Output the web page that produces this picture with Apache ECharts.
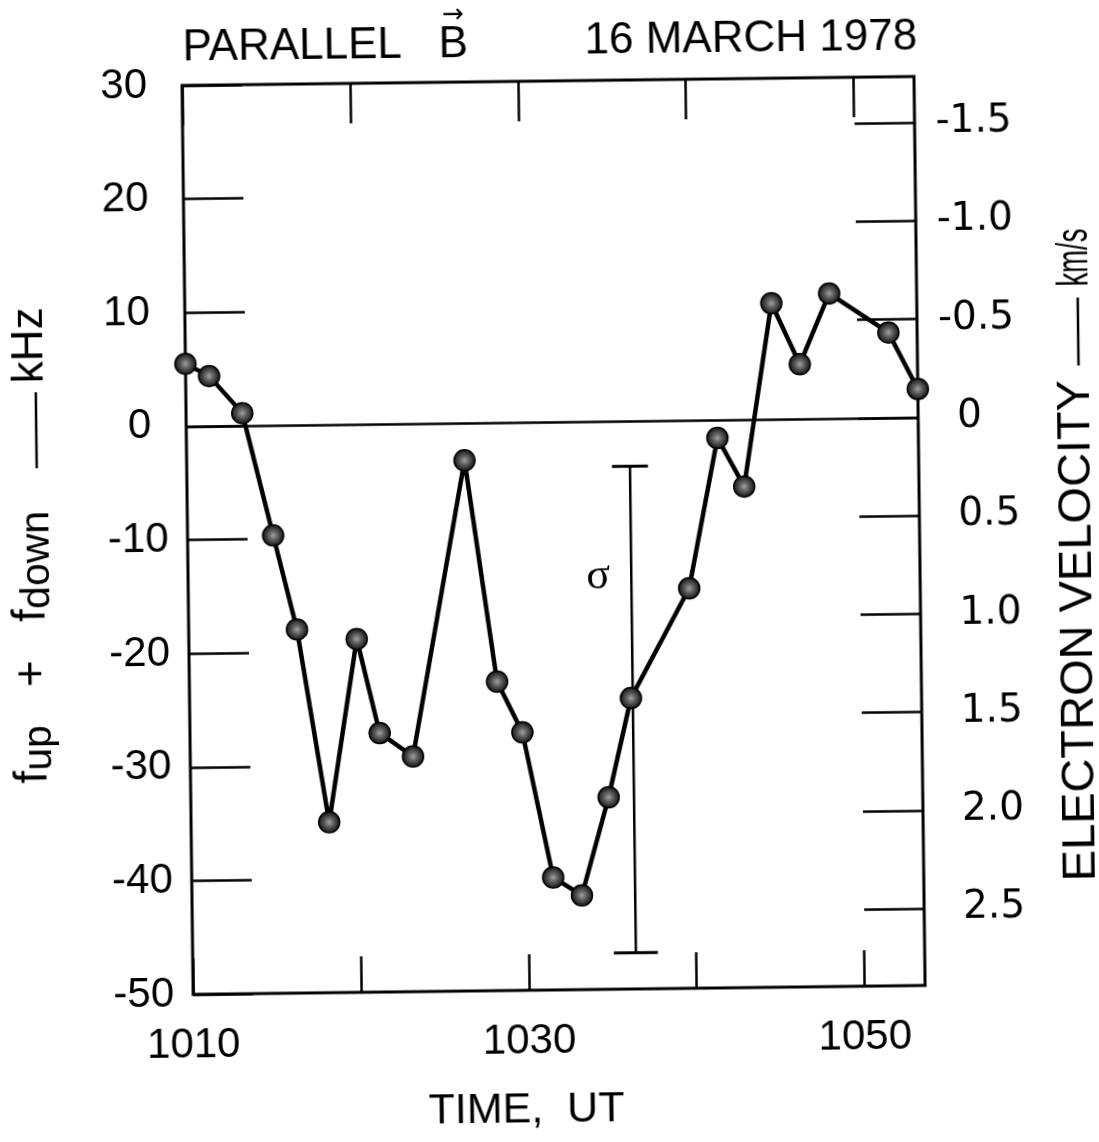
<!DOCTYPE html>
<html>
<head>
<meta charset="utf-8">
<title>Parallel B, 16 March 1978</title>
<script src="https://cdn.jsdelivr.net/npm/echarts@6/dist/echarts.min.js"></script>
<style>
  html, body { margin: 0; padding: 0; background: #fff; overflow: hidden; }
  /* the original plate sits at a slight tilt on the page */
  #chart { width: 1099px; height: 1142px; transform: rotate(-0.7deg); transform-origin: 549.5px 571px; }
</style>
</head>
<body>
<div id="chart"></div>
<script>
// Sample times (UT, minutes after 1000) and the summed Doppler shift f_up + f_down in kHz
const timeUT = [1010.0, 1011.4, 1013.35, 1015.1, 1016.45, 1018.23, 1020.0, 1021.3, 1023.27, 1026.55,
                1028.33, 1029.8, 1031.53, 1033.23, 1034.89, 1036.29, 1039.84, 1041.63, 1043.19, 1044.94,
                1046.59, 1048.39, 1051.89, 1053.6];
const freqSum = [5.5, 4.4, 1.1, -9.7, -18.0, -35.0, -18.9, -27.2, -29.3, -3.3,
                 -22.8, -27.3, -40.1, -41.7, -33.1, -24.4, -14.8, -1.6, -5.9, 10.2,
                 4.8, 11.0, 7.5, 2.5];

// Typical one-sigma uncertainty, drawn as a bar beside the data
const sigmaTime = 1036.4;
const sigmaRange = [-46.8, -4.0];

// Axis ticks and labels
const timeTicks = [1010, 1020, 1030, 1040, 1050];
const timeLabels = [1010, 1030, 1050];
const velocityTicks = [-1.5, -1.0, -0.5, 0, 0.5, 1.0, 1.5, 2.0, 2.5];

// kHz of summed shift per km/s of electron drift (velocity axis runs opposite to frequency)
const kHzPerKmS = 17.3;
const freqMin = -50, freqMax = 30;
const timeMin = 1010, timeMax = 1053.6;

const points = timeUT.map((t, i) => [t, freqSum[i]]);

const SANS = '"Liberation Sans", Arial, Helvetica, sans-serif';
const ROUND = '"DejaVu Sans", sans-serif';
const chart = echarts.init(document.getElementById('chart'), null, { renderer: 'canvas' });

const tickStyle = { color: '#000', width: 2.5 };

const option = {
  backgroundColor: '#fff',
  animation: false,
  grid: {
    left: 188, top: 81, right: 179, bottom: 152,
    show: true, borderColor: '#000', borderWidth: 3, backgroundColor: 'transparent'
  },
  xAxis: [
    {
      type: 'value', position: 'bottom', min: timeMin, max: timeMax,
      axisLine: { show: false, onZero: false },
      splitLine: { show: false },
      axisTick: { show: true, inside: true, length: 36, customValues: timeTicks, lineStyle: tickStyle },
      axisLabel: { customValues: timeLabels, margin: 30, color: '#000',
                   fontFamily: SANS, fontSize: 42, formatter: v => String(v) }
    },
    {
      type: 'value', position: 'top', min: timeMin, max: timeMax,
      axisLine: { show: false, onZero: false },
      splitLine: { show: false },
      axisTick: { show: true, inside: true, length: 40, customValues: timeTicks, lineStyle: tickStyle },
      axisLabel: { show: false }
    }
  ],
  yAxis: [
    {
      type: 'value', position: 'left', min: freqMin, max: freqMax, interval: 10,
      axisLine: { show: false, onZero: false },
      splitLine: { show: false },
      axisTick: { show: true, inside: true, length: 60, lineStyle: tickStyle },
      axisLabel: {
        margin: 19, color: '#000', fontFamily: SANS, fontSize: 42,
        formatter: v => (v < 0 ? '{n|' + v + '}' : '{p|' + v + '}'),
        rich: {
          n: { fontFamily: SANS, fontSize: 42, color: '#000' },
          p: { fontFamily: SANS, fontSize: 42, color: '#000', padding: [0, 16, 0, 0] }
        }
      }
    },
    {
      type: 'value', position: 'right', inverse: true,
      min: -freqMax / kHzPerKmS, max: -freqMin / kHzPerKmS,
      axisLine: { show: false, onZero: false },
      splitLine: { show: false },
      axisTick: { show: true, inside: true, length: 60, customValues: velocityTicks, lineStyle: tickStyle },
      axisLabel: {
        customValues: velocityTicks, margin: 21, color: '#000',
        fontFamily: ROUND, fontSize: 39,
        formatter: v => {
          const s = v === 0 ? '0' : Math.abs(v).toFixed(1);
          return v < 0 ? '{n|-' + s + '}' : '{p|' + s + '}';
        },
        rich: {
          n: { fontFamily: ROUND, fontSize: 39, color: '#000' },
          p: { fontFamily: ROUND, fontSize: 39, color: '#000', padding: [0, 0, 0, 18] }
        }
      }
    }
  ],
  series: [
    {
      type: 'line',
      xAxisIndex: 0, yAxisIndex: 0,
      data: points,
      symbol: 'circle',
      symbolSize: 21,
      z: 5,
      lineStyle: { color: '#000', width: 4.5 },
      itemStyle: {
        color: {
          type: 'radial', x: 0.5, y: 0.5, r: 0.5,
          colorStops: [
            { offset: 0, color: '#a0a0a0' },
            { offset: 0.45, color: '#585858' },
            { offset: 1, color: '#0e0e0e' }
          ]
        },
        borderColor: '#000', borderWidth: 1.5
      },
      markLine: {
        silent: true, symbol: 'none', label: { show: false },
        lineStyle: { color: '#000', width: 2.5, type: 'solid' },
        data: [{ yAxis: 0 }]
      }
    },
    {
      type: 'custom',
      xAxisIndex: 0, yAxisIndex: 0,
      data: [[sigmaTime, sigmaRange[0], sigmaRange[1]]],
      z: 4,
      renderItem: (params, api) => {
        const lo = api.coord([api.value(0), api.value(1)]);
        const hi = api.coord([api.value(0), api.value(2)]);
        const tag = api.coord([api.value(0), -13.7]);
        return {
          type: 'group',
          children: [
            { type: 'line', shape: { x1: hi[0], y1: hi[1], x2: lo[0], y2: lo[1] },
              style: { stroke: '#000', lineWidth: 2.5 } },
            { type: 'line', shape: { x1: hi[0] - 18, y1: hi[1], x2: hi[0] + 18, y2: hi[1] },
              style: { stroke: '#000', lineWidth: 3 } },
            { type: 'line', shape: { x1: lo[0] - 22, y1: lo[1], x2: lo[0] + 22, y2: lo[1] },
              style: { stroke: '#000', lineWidth: 3 } },
            { type: 'text', x: tag[0] - 33, y: tag[1],
              style: { text: 'σ', fill: '#000', fontFamily: '"Liberation Serif", serif',
                       fontSize: 44, align: 'center', verticalAlign: 'middle' } }
          ]
        };
      }
    }
  ],
  graphic: [
    // heading
    { type: 'text', left: 189, top: 22,
      style: { text: 'PARALLEL', fill: '#000', fontFamily: SANS, fontSize: 44 } },
    { type: 'text', left: 445, top: 22,
      style: { text: 'B', fill: '#000', fontFamily: SANS, fontSize: 44 } },
    { type: 'text', left: 449, top: 1,
      style: { text: '→', fill: '#000', fontFamily: ROUND, fontSize: 26 } },
    { type: 'text', left: 591, top: 20,
      style: { text: '16 MARCH 1978', fill: '#000', fontFamily: SANS, fontSize: 44 } },
    // time axis title
    { type: 'text', x: 520, y: 1110,
      style: { text: 'TIME,  UT', fill: '#000', fontFamily: SANS, fontSize: 43,
               align: 'center', verticalAlign: 'middle' } },
    // frequency axis title
    { type: 'text', x: 31, y: 641, rotation: Math.PI / 2,
      style: {
        text: '{m|f}{s|up}{m|   +   f}{s|down}',
        align: 'center', verticalAlign: 'middle', fill: '#000',
        rich: {
          m: { fontFamily: SANS, fontSize: 46, lineHeight: 54, fill: '#000' },
          s: { fontFamily: SANS, fontSize: 41, lineHeight: 28, verticalAlign: 'bottom', fill: '#000' }
        }
      } },
    { type: 'line', shape: { x1: 38, y1: 386, x2: 38, y2: 462 }, style: { stroke: '#000', lineWidth: 2.5 } },
    { type: 'text', x: 33, y: 339, rotation: Math.PI / 2,
      style: { text: 'kHz', fill: '#000', fontFamily: SANS, fontSize: 44,
               align: 'center', verticalAlign: 'middle' } },
    // velocity axis title
    { type: 'text', x: 1078, y: 637, rotation: Math.PI / 2,
      style: { text: 'ELECTRON VELOCITY', fill: '#000', fontFamily: SANS, fontSize: 47,
               align: 'center', verticalAlign: 'middle' } },
    { type: 'line', shape: { x1: 1081, y1: 304, x2: 1081, y2: 372 }, style: { stroke: '#000', lineWidth: 2.5 } },
    { type: 'text', x: 1079, y: 264, rotation: Math.PI / 2, scaleX: 0.62,
      style: { text: 'km/s', fill: '#000', fontFamily: SANS, fontSize: 44,
               align: 'center', verticalAlign: 'middle' } }
  ]
};

chart.setOption(option);
</script>
</body>
</html>
